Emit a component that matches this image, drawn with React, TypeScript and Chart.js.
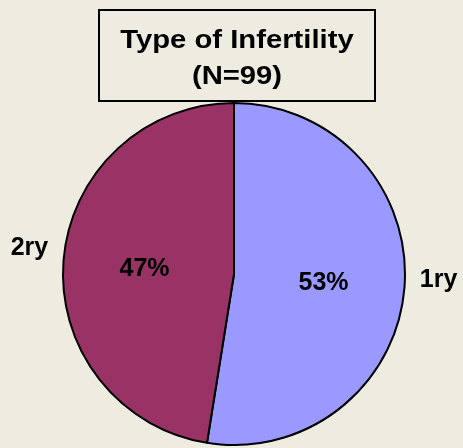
import React, { useEffect, useRef } from "react";
import { Chart, registerables } from "chart.js";

Chart.register(...registerables);

const categories = ["1ry", "2ry"];
const counts = [52, 47];
const sliceColors = ["#9999FF", "#993366"];
const titleLines = ["Type of Infertility", "(N=99)"];

const BG = "#EEECE1";
const TITLE_FONT = "bold 25px 'Liberation Sans', Arial, sans-serif";
const LABEL_FONT = "bold 25px 'Liberation Sans', Arial, sans-serif";

const overlayPlugin = {
  id: "overlay",
  afterDraw(chart: any) {
    const ctx = chart.ctx as CanvasRenderingContext2D;
    const meta = chart.getDatasetMeta(0);
    const total = counts.reduce((a, b) => a + b, 0);
    ctx.save();
    // title box
    ctx.fillStyle = BG;
    ctx.fillRect(99, 10, 276, 91);
    ctx.lineWidth = 2;
    ctx.strokeStyle = "#000";
    ctx.strokeRect(99, 10, 276, 91);
    ctx.fillStyle = "#000";
    ctx.font = TITLE_FONT;
    ctx.textBaseline = "alphabetic";
    ctx.textAlign = "center";
    const baselines = [47.5, 84];
    titleLines.forEach((t, i) => {
      ctx.save();
      ctx.translate(237, baselines[i]);
      ctx.scale(1.17, 1);
      ctx.fillText(t, 0, 0);
      ctx.restore();
    });
    ctx.font = LABEL_FONT;
    meta.data.forEach((arc: any, i: number) => {
      const p = arc.getProps(["x", "y", "startAngle", "endAngle", "outerRadius"], true);
      const mid = (p.startAngle + p.endAngle) / 2;
      const c = Math.cos(mid);
      const s = Math.sin(mid);
      const r = p.outerRadius;
      const pct = Math.round((counts[i] / total) * 100) + "%";
      ctx.fillText(pct, p.x + c * 0.525 * r, p.y + s * 0.525 * r + 9);
      ctx.fillText(categories[i], p.x + c * 1.2 * r, p.y + s * 1.2 * r - 0.07 * r + 9);
    });
    ctx.restore();
  },
};

export default function App() {
  const ref = useRef<HTMLCanvasElement | null>(null);
  useEffect(() => {
    if (!ref.current) return;
    const chart = new Chart(ref.current, {
      type: "pie",
      data: {
        labels: categories,
        datasets: [
          {
            data: counts,
            backgroundColor: sliceColors,
            borderColor: "#000",
            borderWidth: 2,
          },
        ],
      },
      options: {
        responsive: false,
        animation: false,
        devicePixelRatio: 1,
        layout: { padding: { left: 62, right: 57, top: 102, bottom: 2 } },
        plugins: {
          legend: { display: false },
          tooltip: { enabled: false },
          title: { display: false },
        },
      },
      plugins: [overlayPlugin],
    });
    return () => chart.destroy();
  }, []);
  return (
    <div
      style={{
        position: "fixed",
        left: 0,
        top: 0,
        width: 463,
        height: 448,
        background: BG,
      }}
    >
      <canvas ref={ref} width={463} height={448} style={{ display: "block" }} />
    </div>
  );
}
